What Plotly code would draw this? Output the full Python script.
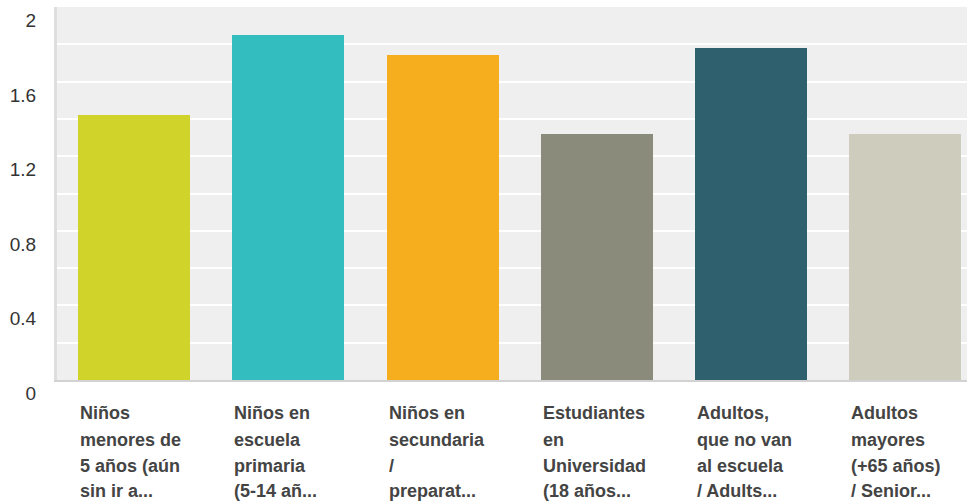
import plotly.graph_objects as go

# Data
categories = [
    'Niños<br>menores de<br>5 años (aún<br>sin ir a...',
    'Niños en<br>escuela<br>primaria<br>(5-14 añ...',
    'Niños en<br>secundaria<br>/<br>preparat...',
    'Estudiantes<br>en<br>Universidad<br>(18 años...',
    'Adultos,<br>que no van<br>al escuela<br>/ Adults...',
    'Adultos<br>mayores<br>(+65 años)<br>/ Senior...',
]
values = [1.42, 1.85, 1.74, 1.32, 1.78, 1.32]
colors = ['#D0D42A', '#33BDBE', '#F6AE1F', '#8A8B7A', '#2F606E', '#CECCBD']
y_ticks = [0, 0.4, 0.8, 1.2, 1.6, 2]

bar_width = 0.727
positions = list(range(len(categories)))

fig = go.Figure()
fig.add_trace(go.Bar(
    x=positions, y=values,
    width=bar_width,
    marker=dict(color=colors, line=dict(width=0)),
    hoverinfo='skip'
))

# Category labels: left aligned under each bar, one annotation per line
line_offsets = [-33, -60, -86, -111]
for pos, label in zip(positions, categories):
    for offset, line in zip(line_offsets, label.split('<br>')):
        fig.add_annotation(
            x=pos - bar_width / 2, xref='x', xanchor='left',
            y=0, yref='paper', yanchor='middle', yshift=offset,
            text=line, showarrow=False,
            font=dict(family='Liberation Sans, Arial', size=18,
                      color='#444444', weight='bold')
        )

fig.update_xaxes(
    range=[-0.5, 5.4],
    showticklabels=False,
    showgrid=False,
    zeroline=False,
    showline=True, linecolor='#D2D2D2', linewidth=2,
    fixedrange=True
)
fig.update_yaxes(
    range=[0, 2.0],
    tickvals=y_ticks,
    ticktext=[str(t) for t in y_ticks],
    ticklabelposition='outside bottom',
    ticklabelstandoff=14,
    tickfont=dict(family='Liberation Sans, Arial', size=19, color='#333333'),
    showgrid=True, gridcolor='white', gridwidth=2,
    minor=dict(dtick=0.2, showgrid=True, gridcolor='white', gridwidth=2),
    zeroline=False,
    showline=True, linecolor='#DEDEDE', linewidth=3,
    fixedrange=True
)
fig.update_layout(
    width=967, height=504,
    showlegend=False,
    margin=dict(l=57, r=0, t=7, b=124),
    plot_bgcolor='#EFEFEF',
    paper_bgcolor='white',
    bargap=0
)

# page body has a default 8px margin; drop it so the chart sits at the window edge
fig.write_html('out.html', config={'displayModeBar': False},
               post_script="document.body.style.margin='0';")
